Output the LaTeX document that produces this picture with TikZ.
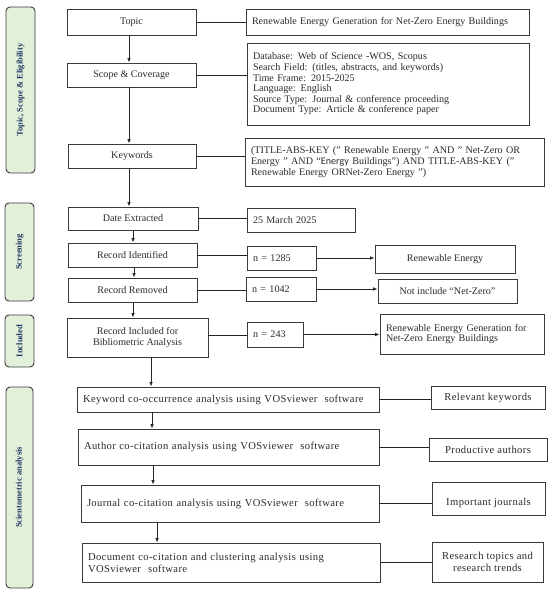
\documentclass[tikz,border=0pt]{standalone}
\usepackage{fontspec}
\setmainfont{Liberation Serif}
\newfontfamily\carl{Carlito}
\usetikzlibrary{arrows.meta}
\definecolor{sidefill}{HTML}{E2EFD9}
\definecolor{sidetext}{HTML}{1F3864}
\definecolor{edge}{HTML}{3A3A3A}
\definecolor{txt}{HTML}{2A2A2A}
\begin{document}
\begin{tikzpicture}[x=1pt,y=-1pt,
  box/.style={draw=edge, line width=0.9pt, inner xsep=6pt, inner ysep=2pt, text=txt,
    font=\fontsize{10.1}{10.6}\selectfont},
  lbox/.style={box, align=left, text width=#1},
  cbox/.style={box, align=center},
  bfont/.style={font=\fontsize{10.6}{12}\selectfont\addfontfeature{LetterSpace=3.5}},
  bbox/.style={box, align=left, text width=#1, bfont},
  bcbox/.style={box, align=center, bfont},
  side/.style={draw=edge, line width=0.9pt, fill=sidefill, rounded corners=4pt, rotate=90,
    text=sidetext, font=\fontsize{8.5}{10}\selectfont\bfseries, inner sep=0pt},
  ln/.style={draw=black!85, line width=0.8pt},
  arr/.style={ln, -{Latex[length=4.5pt,width=3.6pt]}}]
\useasboundingbox (0,0) rectangle (550,593);

% side labels
\node[side, minimum width=166pt, minimum height=29pt] (s1) at (20.5,90) {Topic, Scope \& Eligibility};
\node[side, minimum width=98pt, minimum height=29pt] (s2) at (19.5,252) {Screening};
\node[side, minimum width=52pt, minimum height=29pt] (s3) at (19.5,341) {Included};
\node[side, minimum width=201pt, minimum height=27pt] (s4) at (19.5,487.5) {Scientometric analysis};

% left column
\node[cbox, minimum width=129pt, minimum height=26pt] (topic) at (131.5,22) {Topic};
\node[cbox, minimum width=129pt, minimum height=24pt] (scope) at (131.5,75) {Scope \& Coverage};
\node[cbox, minimum width=128pt, minimum height=24pt] (keyw) at (132,156) {Keywords};
\node[cbox, minimum width=130pt, minimum height=23pt] (date) at (133,218.5) {Date Extracted};
\node[cbox, minimum width=129pt, minimum height=24pt] (ident) at (132.5,255) {Record Identified};
\node[cbox, minimum width=129pt, minimum height=24pt] (remov) at (132.5,290) {Record Removed};
\node[cbox, minimum width=141pt, minimum height=39pt] (incl) at (137.5,337.5) {Record Included for\\Bibliometric Analysis};

% right column (top)
\node[lbox=271pt, minimum height=26pt] (topicR) at (387.5,22) {Renewable Energy Generation for Net-Zero Energy Buildings};
\node[lbox=270pt, minimum height=82pt] (scopeR) at (388,84) {Database: Web of Science -WOS, Scopus\\
Search Field: (titles, abstracts, and keywords)\\
Time Frame: 2015-2025\\
Language: English\\
Source Type: Journal \& conference proceeding\\
Document Type: Article \& conference paper\\[6pt]};
\node[lbox=287pt, minimum height=48pt] (keywR) at (394.5,162) {\mbox{(TITLE-ABS-KEY (" Renewable Energy " AND " Net-Zero OR}\\
\mbox{Energy " AND “{\carl Energy} Buildings") AND TITLE-ABS-KEY ("}\\
\mbox{Renewable Energy ORNet-Zero Energy ")}};
\node[lbox=96pt, minimum height=24pt] (march) at (301,220) {25 March 2025};
\node[lbox=57pt, minimum height=24pt] (n1285) at (281.5,258) {n = 1285};
\node[cbox, minimum width=140pt, minimum height=28pt] (re) at (445,259) {Renewable Energy};
\node[lbox=58pt, minimum height=24pt] (n1042) at (281,289) {n = 1042};
\node[cbox, minimum width=139pt, minimum height=24pt] (notinc) at (447.5,291) {Not include “Net-Zero”};
\node[lbox=44pt, minimum height=25pt] (n243) at (275,334.5) {n = 243};
\node[lbox=152pt, minimum height=40pt] (regen) at (462,334) {Renewable Energy Generation for\\Net-Zero Energy Buildings};

% scientometric
\node[bbox=290pt, minimum height=25pt] (kwco) at (228,399.5) {Keyword co-occurrence analysis using VOSviewer~ software};
\node[bbox=289pt, minimum height=36pt] (auth) at (228.5,447) {Author co-citation analysis using VOSviewer~ software\\[9pt]};
\node[bbox=286pt, minimum height=37pt] (jour) at (230,503.5) {Journal co-citation analysis using VOSviewer~ software\\[9pt]};
\node[bbox=286pt, minimum height=39pt] (doc) at (231,562.5) {Document co-citation and clustering analysis using\\VOSviewer~ software};
\node[bcbox, minimum width=114pt, minimum height=23pt] (relk) at (488,397.5) {Relevant keywords};
\node[bcbox, minimum width=118pt, minimum height=23pt] (prod) at (488,449.5) {Productive authors};
\node[bcbox, minimum width=113pt, minimum height=33pt] (impj) at (488.5,498.5) {\rule{0pt}{16pt}Important journals};
\node[bcbox, minimum width=111pt, minimum height=40pt] (rest) at (487.5,562) {Research topics and\\research trends};

% vertical arrows
\draw[arr] ([xshift=-2.5pt]topic.south) -- ([xshift=-2.5pt]topic.south |- scope.north);
\draw[arr] ([xshift=-2.5pt]scope.south) -- ([xshift=-2.5pt]scope.south |- keyw.north);
\draw[arr] ([xshift=-3pt]keyw.south) -- ([xshift=-3pt]keyw.south |- date.north);
\draw[arr] (date.south) -- (date.south |- ident.north);
\draw[arr] ([xshift=1.5pt]ident.south) -- ([xshift=1.5pt]ident.south |- remov.north);
\draw[arr] ([xshift=0.5pt]remov.south) -- ([xshift=0.5pt]remov.south |- incl.north);
\draw[arr] ([xshift=13.5pt]incl.south) -- ([xshift=13.5pt]incl.south |- kwco.north);
\draw[arr] ([xshift=-76pt]kwco.south) -- ([xshift=-76pt]kwco.south |- auth.north);
\draw[arr] ([xshift=-75.5pt]auth.south) -- ([xshift=-75.5pt]auth.south |- jour.north);
\draw[arr] ([xshift=-73pt]jour.south) -- ([xshift=-73pt]jour.south |- doc.north);

% horizontal links
\draw[ln] (topic.east) -- (topic.east -| topicR.west);
\draw[ln] (scope.east) -- (scope.east -| scopeR.west);
\draw[ln] (keyw.east) -- (keyw.east -| keywR.west);
\draw[ln] (date.east) -- (date.east -| march.west);
\draw[ln] (ident.east) -- (ident.east -| n1285.west);
\draw[arr] (n1285.east) -- (n1285.east -| re.west);
\draw[ln] (remov.east) -- (remov.east -| n1042.west);
\draw[arr] (n1042.east) -- (n1042.east -| notinc.west);
\draw[ln] ([yshift=2.5pt]incl.east) -- ([yshift=2.5pt]incl.east -| n243.west);
\draw[arr] (n243.east) -- (n243.east -| regen.west);
\draw[ln] (kwco.east) -- (kwco.east -| relk.west);
\draw[ln] (auth.east) -- (auth.east -| prod.west);
\draw[ln] (jour.east) -- (jour.east -| impj.west);
\draw[ln] (doc.east) -- (doc.east -| rest.west);
\end{tikzpicture}
\end{document}
